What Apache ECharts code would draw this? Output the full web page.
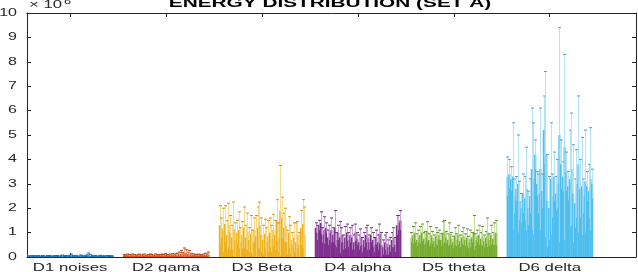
<!DOCTYPE html>
<html><head><meta charset="utf-8">
<script src="https://cdn.jsdelivr.net/npm/echarts@6/dist/echarts.min.js"></script>
<style>html,body{margin:0;padding:0;background:#fff}#c{width:638px;height:272px}</style>
</head><body><div id="c"></div>
<script>
// ---- data (values in units of 10^6) ----
const categories = ['D1 noises','D2 gama','D3 Beta','D4 alpha','D5 theta','D6 delta'];
const yTicks = [0,1,2,3,4,5,6,7,8,9,10];
const titleText = 'ENERGY DISTRIBUTION (SET A)';
const exponentBase = '\u00d7 10';
const exponentPower = '6';

const D1_mean = [0.04,0.03,0.04,0.05,0.03,0.04,0.04,0.03,0.05,0.04, 0.03,0.04,0.05,0.04,0.03,0.04,0.04,0.05,0.03,0.04, 0.04,0.05,0.04,0.03,0.05,0.06,0.04,0.04,0.05,0.03, 0.04,0.05,0.04,0.05,0.06,0.08,0.05,0.04,0.05,0.04, 0.03,0.04,0.05,0.04,0.04,0.03,0.04,0.05,0.04,0.03];
const D1_err  = [0.01,0.01,0.02,0.01,0.01,0.01,0.02,0.01,0.01,0.01, 0.01,0.02,0.01,0.01,0.01,0.02,0.01,0.01,0.01,0.02, 0.04,0.01,0.02,0.01,0.02,0.06,0.02,0.01,0.02,0.01, 0.04,0.02,0.01,0.02,0.03,0.08,0.06,0.02,0.01,0.02, 0.01,0.01,0.02,0.01,0.01,0.01,0.02,0.01,0.01,0.01];

const D2_mean = [0.07,0.06,0.08,0.07,0.06,0.08,0.07,0.06,0.07,0.08, 0.06,0.07,0.08,0.06,0.07,0.08,0.07,0.06,0.08,0.07, 0.06,0.07,0.08,0.07,0.08,0.07,0.06,0.08,0.09,0.08, 0.09,0.10,0.12,0.14,0.11,0.18,0.15,0.12,0.14,0.10, 0.09,0.08,0.07,0.08,0.07,0.06,0.08,0.09,0.08,0.10];
const D2_err  = [0.03,0.02,0.04,0.03,0.02,0.04,0.03,0.02,0.03,0.04, 0.02,0.03,0.04,0.02,0.03,0.04,0.03,0.02,0.04,0.03, 0.02,0.03,0.04,0.03,0.05,0.03,0.02,0.04,0.05,0.04, 0.05,0.06,0.08,0.13,0.07,0.19,0.15,0.08,0.13,0.05, 0.04,0.03,0.03,0.04,0.03,0.02,0.04,0.06,0.04,0.10];

const D3_mean = [1.3,1.2,1.1,1.35,0.9,1.3,1.0,0.8,1.15,0.7, 1.0,1.1,0.6,0.9,1.2,0.8,1.05,0.7,0.95,0.6, 1.1,0.85,1.2,1.3,0.9,0.7,0.95,0.6,0.85,1.0, 0.75,1.1,0.9,1.5,0.8,1.9,1.6,1.2,1.3,0.6, 1.0,0.7,0.5,0.8,0.6,0.9,0.5,1.2,1.35,0.9];
const D3_err  = [0.8,0.4,0.9,0.75,0.6,0.9,0.7,0.5,1.1,0.7, 0.5,0.75,0.6,0.55,0.85,0.5,0.75,0.5,0.75,0.5, 0.5,0.85,0.85,0.95,0.7,0.6,0.6,0.6,0.65,0.6, 0.55,0.65,0.6,0.85,0.6,1.85,0.85,0.6,0.7,0.5, 0.65,0.6,0.5,0.6,0.8,0.55,0.5,0.7,1.0,1.15];

const D4_mean = [1.2,1.0,1.3,1.4,0.9,1.1,1.2,0.8,1.0,1.1, 0.9,1.2,0.7,1.0,0.8,0.9,0.6,0.8,1.0,0.7, 0.9,0.8,0.6,1.0,0.75,0.6,0.8,0.5,0.7,0.9, 0.8,0.6,0.9,0.7,0.5,0.8,0.6,0.95,0.5,0.4, 0.6,0.55,0.4,0.5,0.7,0.8,0.5,1.3,1.4,1.5];
const D4_err  = [0.2,0.3,0.2,0.45,0.3,0.55,0.2,0.3,0.3,0.5, 0.3,0.7,0.3,0.3,0.65,0.3,0.3,0.45,0.35,0.3, 0.3,0.5,0.3,0.35,0.25,0.3,0.35,0.3,0.3,0.3, 0.5,0.3,0.3,0.3,0.3,0.3,0.3,0.4,0.5,0.3, 0.3,0.45,0.3,0.3,0.3,0.4,0.3,0.4,0.3,0.4];

const D5_mean = [0.8,0.9,1.0,0.7,0.85,0.9,1.0,0.75,0.8,1.05, 0.7,0.9,0.8,0.65,0.85,0.75,0.9,0.7,1.0,1.05, 0.8,0.7,0.95,0.75,0.6,0.85,0.7,0.9,0.65,0.8, 0.85,0.7,0.8,0.6,0.75,0.8,1.0,0.7,0.85,0.9, 0.75,0.85,0.65,0.8,1.0,0.7,0.9,0.75,0.95,1.0];
const D5_err  = [0.2,0.35,0.4,0.25,0.25,0.35,0.35,0.25,0.25,0.4, 0.25,0.35,0.25,0.25,0.35,0.25,0.2,0.25,0.45,0.45, 0.25,0.25,0.45,0.25,0.25,0.35,0.25,0.4,0.25,0.25, 0.35,0.25,0.35,0.25,0.35,0.2,0.7,0.25,0.25,0.4, 0.25,0.4,0.25,0.25,0.6,0.25,0.4,0.25,0.45,0.5];

const D6_mean = [3.3,3.4,3.2,3.3,2.5,2.8,3.0,2.3,2.0,2.6, 2.4,2.8,2.0,2.5,3.6,3.2,4.2,3.0,2.6,3.6, 2.7,5.2,4.2,2.3,2.0,3.2,2.5,3.3,2.6,3.0, 5.0,3.8,3.3,4.5,3.5,2.9,3.2,3.6,2.6,2.2, 3.0,3.8,2.8,2.9,2.5,3.1,2.9,2.7,3.2,3.0];
const D6_err  = [0.8,0.6,0.5,2.2,0.7,0.5,2.0,0.8,0.6,0.8, 0.9,1.7,0.7,0.7,2.5,2.3,0.6,0.5,0.8,2.5, 0.7,1.4,3.4,1.9,1.3,2.3,0.9,1.0,0.7,1.0, 4.4,1.0,0.6,3.8,0.8,0.6,2.0,2.3,2.0,1.0, 1.4,2.8,1.2,2.0,0.7,2.1,0.6,1.1,2.1,0.6];

const groupMeans = [D1_mean, D2_mean, D3_mean, D4_mean, D5_mean, D6_mean];
const groupErrs  = [D1_err, D2_err, D3_err, D4_err, D5_err, D6_err];

// ---- styling ----
const barColors     = ['#0072BD','#D95319','#EDB120','#7E2F8E','#77AC30','#4DBEEE'];
const whiskerColors = ['#7fb6de','#f0a47f','#f7da8a','#cfa6d8','#c4df9e','#b4e3f8'];
const innerColors   = ['#4a96cf','#e58a5c','#f3cc62','#b07dbb','#a6cd72','#8fd4f3'];
const capColors     = ['#2a6f9e','#b4481a','#c9961e','#6a2a78','#5f8f26','#5b9dbe'];
const axisColor = '#262626';
const X_MIN = 0.55, X_MAX = 6.9, SPAN = 0.9;
const TEXT_SX = 1.6;
const FONT = '"Liberation Sans", Arial, Helvetica, sans-serif';

const barData = [];
groupMeans.forEach((arr, g) => arr.forEach((m, i) => barData.push([g + 1, i, arr.length, m, groupErrs[g][i]])));

function barItem(params, api) {
  const g = api.value(0), i = api.value(1), n = api.value(2), m = api.value(3);
  const x0 = g - SPAN / 2 + i * SPAN / n, x1 = x0 + SPAN / n;
  const a = api.coord([x0, m]), b = api.coord([x1, 0]);
  return { type: 'rect', shape: { x: a[0], y: a[1], width: b[0] - a[0] + 0.4, height: b[1] - a[1] },
           style: { fill: barColors[g - 1] } };
}
function errItem(params, api) {
  const g = api.value(0), i = api.value(1), n = api.value(2), m = api.value(3), e = api.value(4);
  const xc = g - SPAN / 2 + (i + 0.5) * SPAN / n;
  const lowV = Math.max(m - e, 0);
  const top = api.coord([xc, m + e]), mid = api.coord([xc, m]), low = api.coord([xc, lowV]);
  const x = Math.round(top[0]) + 0.5, cw = 1.5;
  const ch = [
    { type: 'line', shape: { x1: x, y1: low[1], x2: x, y2: mid[1] }, style: { stroke: innerColors[g - 1], lineWidth: 1 } },
    { type: 'line', shape: { x1: x, y1: mid[1], x2: x, y2: top[1] }, style: { stroke: whiskerColors[g - 1], lineWidth: 1 } },
    { type: 'line', shape: { x1: x - cw, y1: top[1], x2: x + cw, y2: top[1] }, style: { stroke: capColors[g - 1], lineWidth: 1 } }
  ];
  return { type: 'group', children: ch };
}
function yLabelItem(params, api) {
  const p = api.coord([X_MIN, api.value(1)]);
  return { type: 'text', x: p[0] - 10, y: p[1], scaleX: TEXT_SX,
           style: { text: String(yTicks[params.dataIndex]), fontSize: 10, fontFamily: FONT, fill: axisColor, align: 'right', verticalAlign: 'middle' } };
}
function xLabelItem(params, api) {
  const p = api.coord([api.value(0), 0]);
  return { type: 'text', x: p[0], y: p[1] + 11, scaleX: TEXT_SX,
           style: { text: categories[params.dataIndex], fontSize: 10.5, fontFamily: FONT, fill: axisColor, align: 'center', verticalAlign: 'middle' } };
}

const tickVals = categories.map((c, k) => k + 1);
function xAxisDef(pos) {
  return { type: 'value', min: X_MIN, max: X_MAX, position: pos,
    axisLine: { show: true, onZero: false, lineStyle: { color: axisColor, width: 1 } },
    axisTick: { show: true, inside: true, length: 4, customValues: tickVals, lineStyle: { color: axisColor } },
    axisLabel: { show: false }, splitLine: { show: false } };
}
function yAxisDef(pos) {
  return { type: 'value', min: 0, max: 10, interval: 1, position: pos,
    axisLine: { show: true, lineStyle: { color: axisColor, width: 1 } },
    axisTick: { show: true, inside: true, length: 4, lineStyle: { color: axisColor } },
    axisLabel: { show: false }, splitLine: { show: false } };
}

const chart = echarts.init(document.getElementById('c'));
chart.setOption({
  animation: false,
  grid: { left: 27, right: 2, top: 13, bottom: 15 },
  xAxis: [xAxisDef('bottom'), xAxisDef('top')],
  yAxis: [yAxisDef('left'), yAxisDef('right')],
  graphic: [
    { type: 'text', x: 330, y: 10, scaleX: TEXT_SX,
      style: { text: titleText, fontSize: 13, fontWeight: 'bold', fontFamily: FONT, fill: '#000', align: 'center', verticalAlign: 'bottom' } },
    { type: 'text', x: 29, y: 11, scaleX: TEXT_SX,
      style: { text: exponentBase, fontSize: 10.5, fontFamily: FONT, fill: axisColor, align: 'left', verticalAlign: 'bottom' } },
    { type: 'text', x: 64, y: 6, scaleX: TEXT_SX,
      style: { text: exponentPower, fontSize: 8, fontFamily: FONT, fill: axisColor, align: 'left', verticalAlign: 'bottom' } }
  ],
  series: [
    { type: 'custom', renderItem: barItem, data: barData, encode: { x: 0, y: 3 }, clip: true, z: 2 },
    { type: 'custom', renderItem: errItem, data: barData, encode: { x: 0, y: 3 }, clip: true, z: 3 },
    { type: 'custom', renderItem: yLabelItem, data: yTicks.map(v => [X_MIN, v]), encode: { x: 0, y: 1 }, clip: false, z: 4, silent: true },
    { type: 'custom', renderItem: xLabelItem, data: tickVals.map(v => [v, 0]), encode: { x: 0, y: 1 }, clip: false, z: 4, silent: true }
  ]
});
</script></body></html>
